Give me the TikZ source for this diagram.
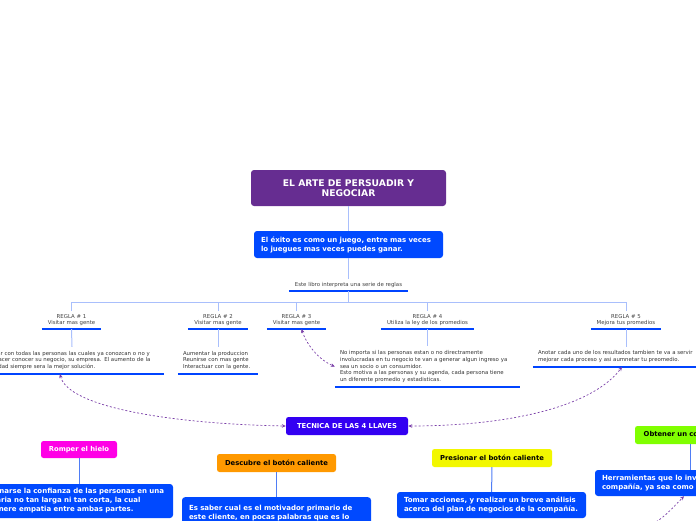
\documentclass[tikz,border=0pt]{standalone}
\usepackage{fontspec}
\setmainfont{DejaVu Sans}
\usetikzlibrary{arrows.meta}

\definecolor{titlepurple}{HTML}{662D91}
\definecolor{boxblue}{HTML}{0049FF}
\definecolor{ulblue}{HTML}{0044FF}
\definecolor{treeblue}{HTML}{A9BFFC}
\definecolor{linkblue}{HTML}{4F7DF5}
\definecolor{llaveviolet}{HTML}{3300F2}
\definecolor{relpurple}{HTML}{7A3FA8}
\definecolor{hielopink}{HTML}{FF00E6}
\definecolor{botonorange}{HTML}{FF9900}
\definecolor{presionyellow}{HTML}{F2F700}
\definecolor{compromisogreen}{HTML}{80FF00}

\tikzset{
  tree/.style={draw=treeblue, line width=1pt},
  link/.style={draw=linkblue, line width=1pt},
  uline/.style={draw=ulblue, line width=2.6pt},
  rel/.style={draw=relpurple, line width=0.7pt, dash pattern=on 2pt off 2pt,
    {Stealth[length=4pt,width=3.5pt]}-{Stealth[length=4pt,width=3.5pt]}},
  topic/.style={rounded corners=3pt, fill=boxblue, text=white, align=left,
    inner sep=0pt, font=\bfseries\fontsize{7}{9}\selectfont},
  titlebox/.style={rounded corners=3pt, fill=titlepurple, text=white, align=center,
    inner sep=0pt, minimum width=195pt, minimum height=36pt,
    font=\bfseries\fontsize{9.2}{10.5}\selectfont},
  keybox/.style={rounded corners=2.5pt, inner sep=0pt, minimum height=18pt,
    font=\bfseries\fontsize{6.8}{8}\selectfont},
  rulenode/.style={align=center, inner xsep=0pt, inner ysep=3pt,
    font=\fontsize{5.4}{6.6}\selectfont, text=black!75,
    append after command={(\tikzlastnode.south west) edge[uline] (\tikzlastnode.south east)}},
  leaf/.style={align=left, inner xsep=5pt, inner ysep=4pt,
    font=\fontsize{5.4}{6.8}\selectfont, text=black!80,
    append after command={(\tikzlastnode.south west) edge[uline] (\tikzlastnode.south east)}}
}

\begin{document}
\begin{tikzpicture}[x=1pt,y=-1pt]
\useasboundingbox (0,0) rectangle (696,520);
\clip (0,0) rectangle (696,520);

% centre of the map
\node[titlebox] (title) at (348.5,188) {EL ARTE DE PERSUADIR Y\\NEGOCIAR};
\node[topic, minimum width=189pt, minimum height=27pt, text width=175pt] (exito) at (348.5,244.5)
  {El éxito es como un juego, entre mas veces\\lo juegues mas veces puedes ganar.};
\node[rulenode, minimum width=119pt, anchor=south] (libro) at (348.5,291)
  {Este libro interpreta una serie de reglas};
\coordinate (hub) at (348.5,302);

% reglas
\node[rulenode, minimum width=59pt, anchor=south] (regla1) at (71.5,329) {REGLA \# 1\\Visitar mas gente};
\node[rulenode, minimum width=60pt, anchor=south] (regla2) at (218,329) {REGLA \# 2\\Visitar mas gente};
\node[rulenode, minimum width=59pt, anchor=south] (regla3) at (296.5,329) {REGLA \# 3\\Visitar mas gente};
\node[rulenode, minimum width=93pt, anchor=south] (regla4) at (427.5,329) {REGLA \# 4\\Utiliza la ley de los promedios};
\node[rulenode, minimum width=70pt, anchor=south] (regla5) at (626,329) {REGLA \# 5\\Mejora tus promedios};

\node[leaf, text width=174pt, anchor=south] (nota1) at (72,374)
  {Hablar con todas las personas las cuales ya conozcan o no y\\
   y a hacer conocer su negocio, su empresa. El aumento de la\\
   cantidad siempre sera la mejor solución.};
\node[leaf, text width=70pt, anchor=south] (nota2) at (218,374)
  {Aumentar la produccion\\Reunirse con mas gente\\Interactuar con la gente.};
\node[leaf, text width=175pt, anchor=south] (nota4) at (427.5,387)
  {No importa si las personas estan o no directramente\\
   involucradas en tu negocio te van a generar algun ingreso ya\\
   sea un socio o un consumidor.\\
   Esto motiva a las personas y su agenda, cada persona tiene\\
   un diferente promedio y estadisticas.};
\node[leaf, text width=176pt, anchor=south] (nota5) at (626,367)
  {Anotar cada uno de los resultados tambien te va a servir\\
   mejorar cada proceso y asi aumnetar tu preomedio.};

% llaves
\node[keybox, fill=llaveviolet, text=white, minimum width=122pt] (tecnica) at (347,426) {TECNICA DE LAS 4 LLAVES};
\node[keybox, fill=hielopink, text=white, minimum width=76pt, minimum height=17pt] (hielo) at (79,449.5) {Romper el hielo};
\node[keybox, fill=botonorange, minimum width=119pt] (boton) at (276.5,463) {Descubre el botón caliente};
\node[keybox, fill=presionyellow, minimum width=120pt] (presion) at (492,458) {Presionar el botón caliente};
\node[keybox, fill=compromisogreen, minimum width=110pt] (compromiso) at (690,435) {Obtener un compromiso};

\node[topic, minimum width=188pt, minimum height=34pt, text width=180pt] (confianza) at (79,501)
  {Ganarse la confianza de las personas en una\\diaria no tan larga ni tan corta, la cual\\genere empatia entre ambas partes.};
\node[topic, minimum width=189pt, minimum height=40pt, text width=175pt, anchor=north] (motivo) at (276.5,497)
  {Es saber cual es el motivador primario de\\este cliente, en pocas palabras que es lo\\que lo mueve.};
\node[topic, minimum width=189pt, minimum height=26pt, text width=175pt] (acciones) at (491.5,505)
  {Tomar acciones, y realizar un breve análisis\\acerca del plan de negocios de la compañía.};
\node[topic, minimum width=190pt, minimum height=26pt, text width=176pt] (herramientas) at (690,483)
  {Herramientas que lo involucren en la\\compañía, ya sea como socio.};
\coordinate (fuera) at (636,532);

% connectors
\draw[tree] (title) -- (exito);
\draw[tree] (exito) -- (libro);
\draw[tree] (libro.south) -- (hub);
\foreach \r in {regla1,regla2,regla3,regla4,regla5}
  \draw[tree] (hub) -| (\r.north);
\draw[tree] (regla1.south) -- (nota1.north);
\draw[tree] (regla2.south) -- (nota2.north);
\draw[tree] (regla4.south) -- (nota4.north);
\draw[tree] (regla5.south) -- (nota5.north);

\draw[link] (hielo) -- (confianza);
\draw[link] (boton) -- (motivo);
\draw[link] (presion) -- (acciones);
\draw[link] (compromiso) -- (herramientas);

\draw[rel] ([xshift=-12pt]nota1.south) .. controls +(8,34) and +(-110,-2) .. (tecnica.west);
\draw[rel] (tecnica.east) .. controls +(100,0) and +(-30,40) .. ([xshift=-4pt]nota5.south);
\draw[rel] ([xshift=5pt]regla3.south) .. controls +(6,18) and +(-14,-6) .. (nota4.west);
\draw[rel] (fuera) .. controls +(25,-12) .. ([xshift=-6pt]herramientas.south);
\end{tikzpicture}
\end{document}
